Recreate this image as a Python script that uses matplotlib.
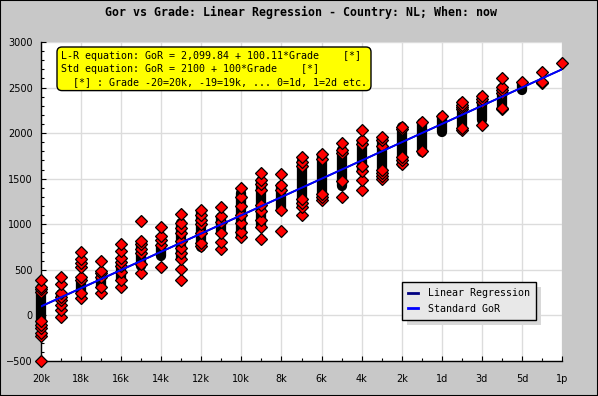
import matplotlib
matplotlib.use('Agg')
import matplotlib.pyplot as plt
import numpy as np
from matplotlib.patches import Rectangle
from matplotlib.lines import Line2D

# grade -20 = 20k ... 0 = 1d, 1 = 2d ...
grades = list(range(-20, 7))
tick_grades = list(range(-20, 7, 2))
tick_labels = ['20k', '18k', '16k', '14k', '12k', '10k', '8k', '6k', '4k', '2k',
               '1d', '3d', '5d', '1p']

# visible single points per grade (GoR)
gor_points = [
    [390, 315, 290, 260, -60, -100, -140, -190, -230, -500],  # -20
    [425, 345, 243, 205, 169, 114, 59, -14],                  # -19
    [699, 616, 572, 534, 425, 389, 243, 188],                 # -18
    [597, 491, 462, 425, 315, 243],                           # -17
    [783, 710, 627, 589, 540, 480, 389, 315],                 # -16
    [1036, 815, 780, 725, 680, 560, 470],                     # -15
    [973, 870, 830, 775, 534],                                # -14
    [1109, 1017, 962, 900, 820, 740, 680, 616, 506, 385],     # -13
    [1153, 1100, 1050, 1000, 900, 800, 760],                  # -12
    [1189, 1091, 1030, 907, 809, 725],                        # -11
    [1394, 1300, 1200, 1100, 1011, 918, 857],                 # -10
    [1566, 1486, 1440, 1380, 1210, 1150, 1050, 973, 838],     # -9
    [1548, 1431, 1380, 1156, 926],                            # -8
    [1735, 1686, 1640, 1280, 1230, 1193, 1102],               # -7
    [1770, 1720, 1330, 1300, 1266],                           # -6
    [1891, 1815, 1780, 1480, 1302],                           # -5
    [2030, 1920, 1880, 1640, 1590, 1490, 1376],               # -4
    [1955, 1920, 1860, 1600, 1560, 1530, 1500],               # -3
    [2070, 2040, 1740, 1700, 1660],                           # -2
    [2125, 1800],                                             # -1
    [2191],                                                   # 0
    [2337, 2310, 2290, 2270, 2060, 2034],                     # 1
    [2407, 2370, 2340, 2086],                                 # 2
    [2601, 2509, 2470, 2440, 2280, 2261],                     # 3
    [2564],                                                   # 4
    [2667, 2564, 2546],                                       # 5
    [2766],                                                   # 6
]

# dense overplotted clusters (low, high) per grade
band_lo = [-130, 175, 250, 320, 400, 540, 650, 630, 750, 910, 880, 990, 1160,
           1200, 1280, 1420, 1590, 1510, 1660, 1790, 2016, 2034, 2144, 2280,
           2473, np.nan, np.nan]
band_hi = [300, 235, 380, 420, 580, 800, 760, 1010, 1130, 1080, 1340, 1480,
           1420, 1690, 1760, 1810, 1910, 1940, 2070, 2110, 2180, 2330, 2400,
           2500, 2540, np.nan, np.nan]

lr_intercept, lr_slope = 2099.84, 100.11
std_intercept, std_slope = 2100, 100

W, H = 598, 396
fig = plt.figure(figsize=(W / 100, H / 100), dpi=100)
fig.patch.set_facecolor('#c8c8c8')
fig.patches.append(Rectangle((0, 0), 1, 1, transform=fig.transFigure,
                             fill=False, edgecolor='black', lw=1.5))

ax = fig.add_axes([41 / W, 1 - 361 / H, (562 - 41) / W, (361 - 42) / H])
ax.set_facecolor('white')
ax.set_xlim(-20, 6)
ax.set_ylim(-500, 3000)

ax.set_xticks(tick_grades)
ax.set_xticklabels(tick_labels)
ax.set_xticks(grades, minor=True)
ax.set_yticks(range(-500, 3001, 500))
ax.set_yticks(range(-500, 3001, 100), minor=True)
ax.grid(True, which='major', color='#dcdcdc', lw=1)
ax.set_axisbelow(True)
for s in ['top', 'right']:
    ax.spines[s].set_visible(False)
for s in ['left', 'bottom']:
    ax.spines[s].set_linewidth(1)
ax.tick_params(which='major', direction='in', length=3.6, width=0.8, labelsize=7,
               colors='black')
ax.tick_params(which='minor', direction='in', length=2.2, width=0.8)
ax.tick_params(axis='x', pad=9)
ax.tick_params(axis='y', pad=6)

for g, lo, hi in zip(grades, band_lo, band_hi):
    if not np.isnan(lo):
        ax.plot([g, g], [lo, hi], color='black', lw=7.4, solid_capstyle='round',
                zorder=3, clip_on=False)

for g, vals in zip(grades, gor_points):
    v = sorted(vals)
    ax.plot([g] * len(v), v, ls='none', marker='D', ms=6.2, mfc='#ff0000',
            mec='black', mew=0.9, zorder=4, clip_on=False)

xs = np.array([grades[0], grades[-1]])
ax.plot(xs, lr_intercept + lr_slope * xs, color='#000080', lw=1.3, zorder=5)
ax.plot(xs, std_intercept + std_slope * xs, color='#0000ff', lw=1.3, zorder=6)

fig.text(0.503, 1 - 12 / H, 'Gor vs Grade: Linear Regression - Country: NL; When: now',
         ha='center', va='center', family='DejaVu Sans Mono', weight='bold', size=8.4)

eq = ('L-R equation: GoR = 2,099.84 + 100.11*Grade    [*]\n'
      'Std equation: GoR = 2100 + 100*Grade    [*]\n'
      '  [*] : Grade -20=20k, -19=19k, ... 0=1d, 1=2d etc.')
fig.text(61 / W, 1 - 51 / H, eq, ha='left', va='top', family='DejaVu Sans Mono',
         size=7.2, linespacing=1.35, zorder=10,
         bbox=dict(boxstyle='round,pad=0.4,rounding_size=0.5', fc='#ffff00',
                   ec='black', lw=1))

handles = [Line2D([], [], color='#000080', lw=2),
           Line2D([], [], color='#0000ff', lw=2)]
leg = fig.legend(handles, ['Linear Regression', 'Standard GoR'],
                 loc='upper left', bbox_to_anchor=(402 / W, 1 - 282 / H),
                 borderaxespad=0, fancybox=False, frameon=True,
                 prop={'family': 'DejaVu Sans Mono', 'size': 7.2},
                 handlelength=1.0, handletextpad=1.0, labelspacing=0.55,
                 borderpad=0.6)
leg.get_frame().set_facecolor('#e8e8e8')
leg.get_frame().set_edgecolor('black')
leg.get_frame().set_linewidth(1)
leg.get_frame().set_alpha(1)
leg.set_zorder(10)

fig.canvas.draw()
bb = leg.get_window_extent()
fig.patches.append(Rectangle(((bb.x0 + 5) / W, (bb.y0 - 5) / H), bb.width / W,
                             bb.height / H, transform=fig.transFigure,
                             facecolor='#d8d8d8', edgecolor='none', zorder=9))

fig.savefig('out.png', dpi=100, facecolor=fig.get_facecolor())
